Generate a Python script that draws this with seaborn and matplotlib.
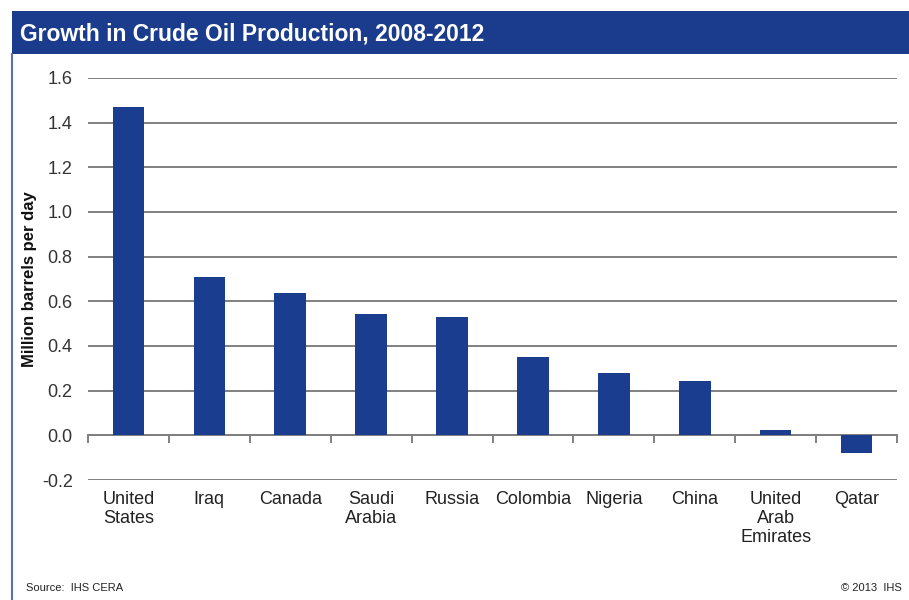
import matplotlib
matplotlib.use("Agg")
import matplotlib.pyplot as plt
from matplotlib.patches import Rectangle
from matplotlib.lines import Line2D
import numpy as np
import pandas as pd
import seaborn as sns

countries = ["United States", "Iraq", "Canada", "Saudi Arabia", "Russia",
             "Colombia", "Nigeria", "China", "United Arab Emirates", "Qatar"]
tick_labels = ["United\nStates", "Iraq", "Canada", "Saudi\nArabia", "Russia",
               "Colombia", "Nigeria", "China", "United\nArab\nEmirates", "Qatar"]
growth = [1.472, 0.709, 0.637, 0.543, 0.528, 0.349, 0.279, 0.242, 0.025, -0.078]
y_ticks = [-0.2, 0.0, 0.2, 0.4, 0.6, 0.8, 1.0, 1.2, 1.4, 1.6]

title = "Growth in Crude Oil Production, 2008-2012"
y_label = "Million barrels per day"
source = "Source:  IHS CERA"
credit = "\u00a9 2013  IHS"

BLUE = "#1a3d8f"
GRID = "#808080"

sns.set_theme(style="white")
plt.rcParams["font.family"] = ["Liberation Sans", "DejaVu Sans"]

df = pd.DataFrame({"country": countries, "growth": growth})

fig = plt.figure(figsize=(9.09, 6.0), dpi=100)
ax = fig.add_axes([88 / 909, 1 - 480 / 600, (897 - 88) / 909, (480 - 78) / 600])

sns.barplot(data=df, x="country", y="growth", color=BLUE, saturation=1,
            width=0.39, linewidth=0, edgecolor=BLUE, ax=ax, zorder=3)

ax.set_xlim(-0.5, len(countries) - 0.5)
ax.set_ylim(-0.2, 1.6)
ax.set_yticks(y_ticks)
ax.set_yticklabels([f"{v:.1f}" for v in y_ticks], fontsize=13, color="#333333")
ax.tick_params(axis="y", length=0, pad=11)

# Grid lines across the plot
ax.yaxis.grid(True, color=GRID, linewidth=1.4, zorder=0)
ax.set_axisbelow(True)

for side in ["left", "right", "top"]:
    ax.spines[side].set_visible(False)

# Zero axis with category boundary ticks
ax.spines["bottom"].set_position(("data", 0))
ax.spines["bottom"].set_color(GRID)
ax.spines["bottom"].set_linewidth(1.4)
ax.spines["bottom"].set_zorder(2)
ax.set_xticks(np.arange(len(countries)))
ax.set_xticks(np.arange(len(countries) + 1) - 0.5, minor=True)
ax.set_xticklabels(tick_labels, fontsize=13, color="#222222", linespacing=1.15,
                   va="top")
ax.tick_params(axis="x", which="major", length=0, pad=40)
ax.tick_params(axis="x", which="minor", length=6, width=1.4, color=GRID,
               direction="out", bottom=True)

ax.set_xlabel("")
ax.set_ylabel(y_label, fontsize=12, fontweight="bold", color="#111111")
ax.yaxis.set_label_coords((37 - 88) / 809, 0.5)

# Header band and frame
fig.patches.append(Rectangle((12 / 909, 1 - 54 / 600), 1, 43 / 600,
                             transform=fig.transFigure, facecolor="#1b3c8c",
                             edgecolor="none", zorder=0))
fig.lines.append(Line2D([12 / 909, 12 / 909], [0, 1 - 54 / 600],
                        transform=fig.transFigure, color="#5a72a8", linewidth=1.5))
fig.text(20 / 909, 1 - 34 / 600, title, color="white", fontsize=16.5,
         fontweight="bold", va="center", ha="left")

fig.text(26 / 909, 1 - 588 / 600, source, fontsize=8, color="#222222",
         va="center", ha="left")
fig.text(902 / 909, 1 - 588 / 600, credit, fontsize=8, color="#222222",
         va="center", ha="right")

fig.savefig("out.png", dpi=100)
